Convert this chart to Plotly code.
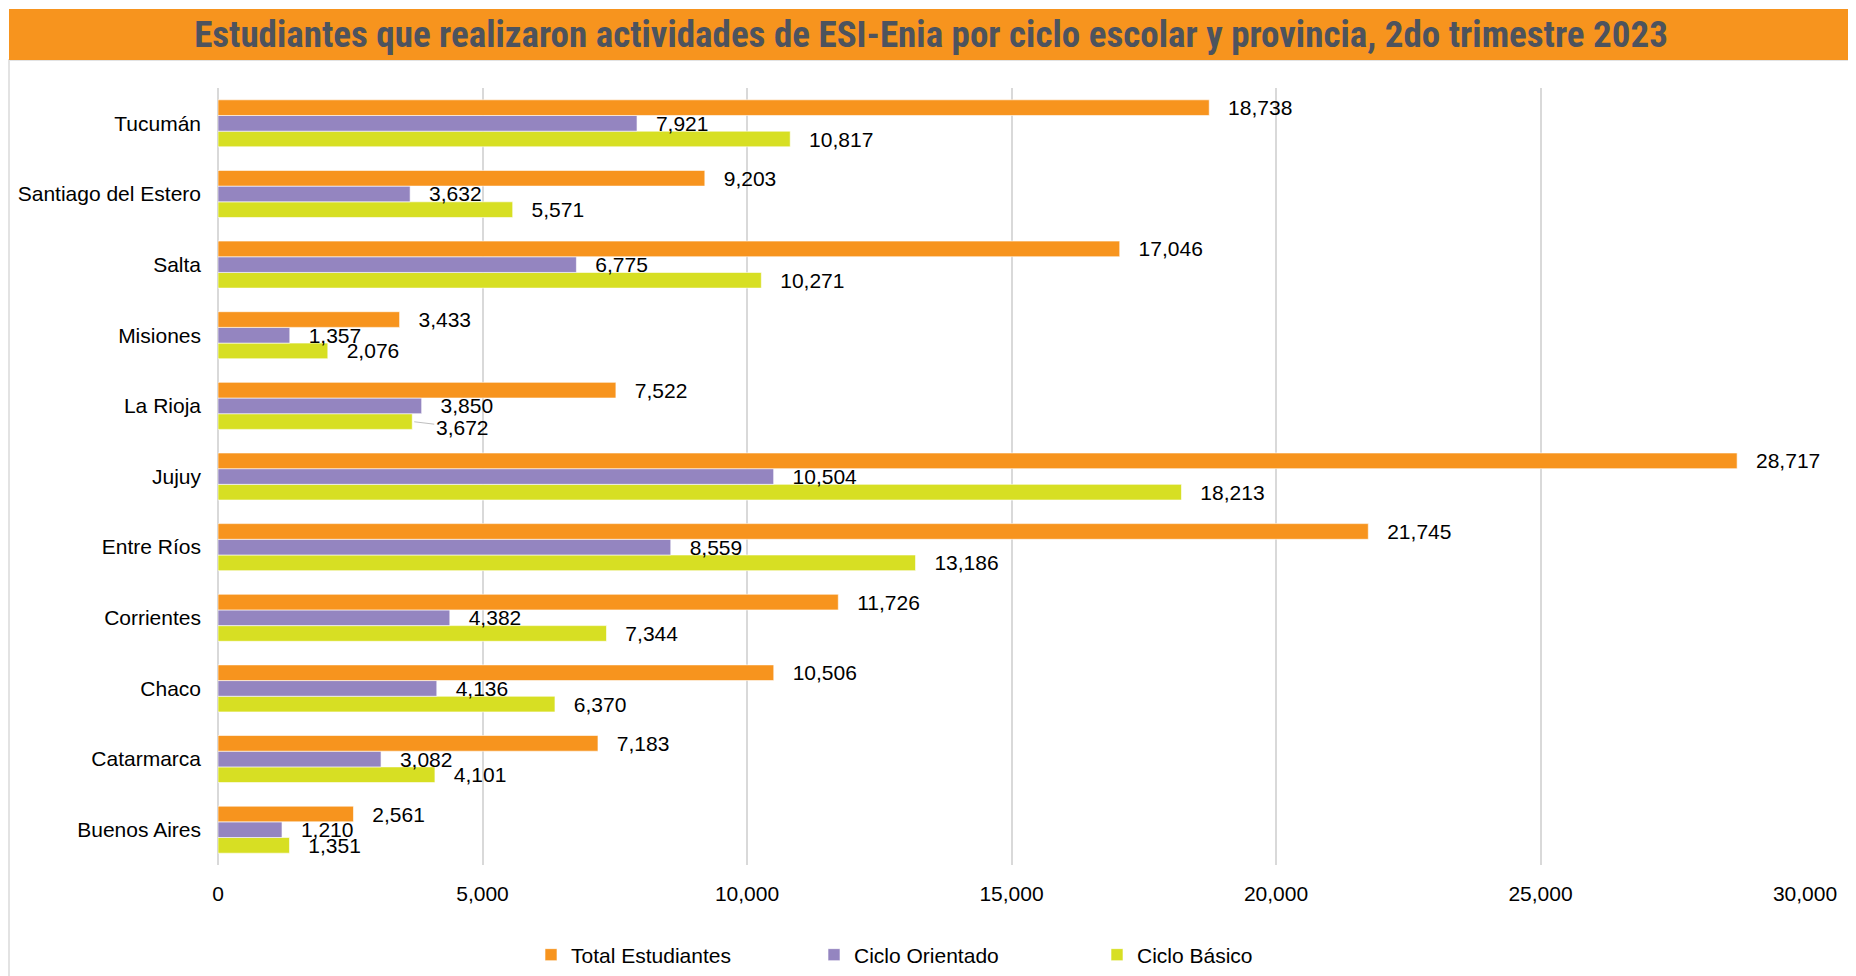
import plotly.graph_objects as go

provincias = ["Buenos Aires", "Catarmarca", "Chaco", "Corrientes", "Entre Ríos", "Jujuy",
              "La Rioja", "Misiones", "Salta", "Santiago del Estero", "Tucumán"]
total_estudiantes = [2561, 7183, 10506, 11726, 21745, 28717, 7522, 3433, 17046, 9203, 18738]
ciclo_orientado = [1210, 3082, 4136, 4382, 8559, 10504, 3850, 1357, 6775, 3632, 7921]
ciclo_basico = [1351, 4101, 6370, 7344, 13186, 18213, 3672, 2076, 10271, 5571, 10817]
x_ticks = [0, 5000, 10000, 15000, 20000, 25000, 30000]
x_tick_labels = ["0", "5,000", "10,000", "15,000", "20,000", "25,000", "30,000"]
moved_label_province = "La Rioja"  # Ciclo Básico label pushed down with a leader line

FONT = "Liberation Sans, Arial, sans-serif"
OFF = 8  # default body margin of the page
W, H = 1856 - OFF, 976 - OFF
L = 218 - OFF
R = W - (1805 - OFF)
T = 88 - OFF
B = H - (865 - OFF)
pw, ph = W - L - R, H - T - B
BARGAP = 0.334


def px_x(p):
    return (p - OFF - L) / pw


def px_y(p):
    return (H - B - (p - OFF)) / ph


series = [
    ("Ciclo Básico", ciclo_basico, "#D7DF23"),
    ("Ciclo Orientado", ciclo_orientado, "#9485C0"),
    ("Total Estudiantes", total_estudiantes, "#F7941E"),
]

fig = go.Figure()
for name, vals, col in series:
    labels = [f"{v:,}" for v in vals]
    if name == "Ciclo Básico":
        labels = ["" if p == moved_label_province else t for p, t in zip(provincias, labels)]
    fig.add_trace(go.Bar(
        y=provincias, x=vals, name=name, orientation="h",
        marker=dict(color=col, line=dict(color="rgba(255,255,255,0.6)", width=1)),
        text=labels,
        texttemplate="\u00a0\u00a0\u2009%{text}",
        textposition="outside", cliponaxis=False, constraintext="none",
        textfont=dict(family=FONT, size=21, color="#000000"),
        hoverinfo="skip",
    ))

bar_px = ph / len(provincias) * (1 - BARGAP) / 3
i = provincias.index(moved_label_province)
annotations = [dict(
    x=ciclo_basico[i], y=moved_label_province, xref="x", yref="y",
    text=f"{ciclo_basico[i]:,}", yshift=-bar_px,
    showarrow=True, arrowhead=0, arrowwidth=1, arrowcolor="#bfbfbf",
    ax=50, ay=6, standoff=2, startstandoff=0,
    font=dict(family=FONT, size=21, color="#000000"),
)]

fig.update_layout(
    width=W, height=H,
    margin=dict(l=L, r=R, t=T, b=B, autoexpand=False),
    paper_bgcolor="white", plot_bgcolor="white",
    barmode="group", bargap=BARGAP, bargroupgap=0,
    font=dict(family=FONT, size=21, color="#000000"),
    title=dict(
        text="<b>Estudiantes que realizaron actividades de ESI-Enia por ciclo escolar y provincia, 2do trimestre 2023</b>",
        x=(931 - OFF) / W, xref="container", xanchor="center",
        y=1 - (34 - OFF) / H, yref="container", yanchor="middle",
        font=dict(family="Liberation Sans Narrow, Roboto Condensed, Liberation Sans, sans-serif",
                  size=37, color="#4d535e"),
    ),
    legend=dict(
        orientation="h", traceorder="reversed",
        x=px_x(531), xanchor="left", y=px_y(955), yanchor="middle",
        entrywidth=238, entrywidthmode="pixels",
        font=dict(family=FONT, size=21, color="#000000"),
        bgcolor="rgba(0,0,0,0)",
    ),
    xaxis=dict(
        range=[0, 30000], tickvals=x_ticks, ticktext=x_tick_labels,
        showgrid=True, gridcolor="#d9d9d9", gridwidth=2,
        zeroline=True, zerolinecolor="#d9d9d9", zerolinewidth=2,
        showline=False, ticks="", ticklabelstandoff=14,
        tickfont=dict(family=FONT, size=21, color="#000000"),
    ),
    yaxis=dict(
        showgrid=False, zeroline=False, showline=False, ticks="",
        ticklabelstandoff=16,
        tickfont=dict(family=FONT, size=21, color="#000000"),
    ),
    annotations=annotations,
    shapes=[
        dict(type="rect", xref="paper", yref="paper",
             x0=px_x(9), x1=px_x(1853), y0=px_y(1000), y1=px_y(60),
             line=dict(color="#e3e3e3", width=2), fillcolor="rgba(0,0,0,0)", layer="below"),
        dict(type="rect", xref="paper", yref="paper",
             x0=px_x(9), x1=px_x(1853), y0=px_y(60), y1=px_y(9),
             line=dict(width=0), fillcolor="#F7941E", layer="below"),
    ],
)

fig.write_html("out.html")
